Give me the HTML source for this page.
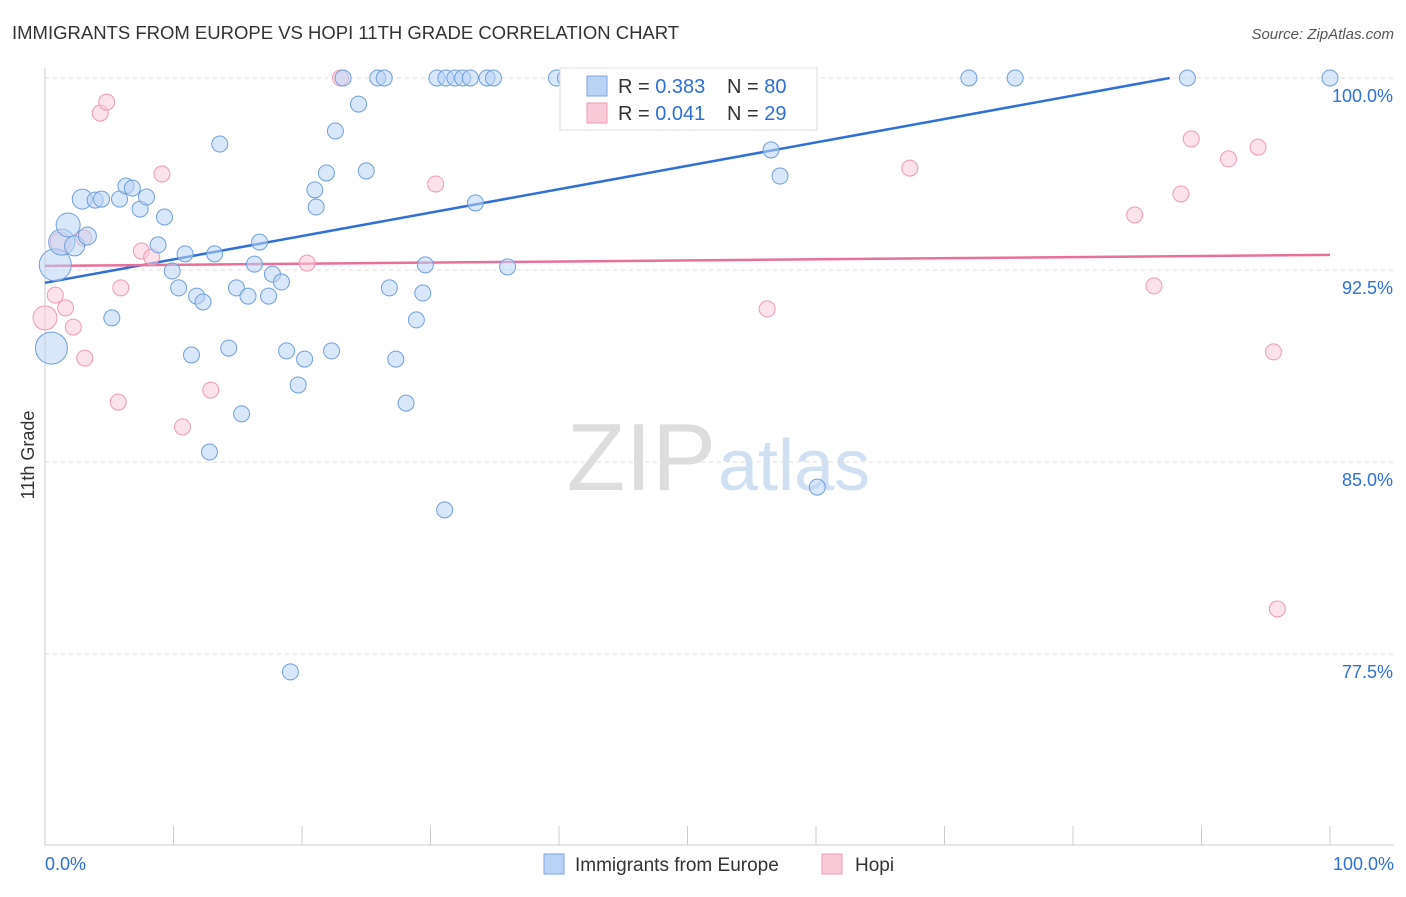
<!DOCTYPE html>
<html><head><meta charset="utf-8">
<style>
body{margin:0;background:#fff;font-family:"Liberation Sans",sans-serif;}
svg text{font-family:"Liberation Sans",sans-serif;}
</style></head>
<body>
<svg id="chart" width="1406" height="892">
<text x="12" y="39" font-size="18.5" fill="#333">IMMIGRANTS FROM EUROPE VS HOPI 11TH GRADE CORRELATION CHART</text>
<text x="1394" y="39" font-size="15" fill="#555" font-style="italic" text-anchor="end">Source: ZipAtlas.com</text>
<text x="34" y="455" font-size="18" fill="#333" transform="rotate(-90 34 455)" text-anchor="middle">11th Grade</text>
<text x="716" y="490" font-size="96" fill="#ddd" text-anchor="end" font-family="Liberation Serif">ZIP</text>
<text x="718" y="490" font-size="72" fill="#cfe0f3">atlas</text>
<g id="grid"></g>
<g id="axes"></g>
<g id="lines"></g>
<g id="pts"></g>
<g>
<rect x="560" y="68" width="257" height="62" fill="#fff" stroke="#ddd"/>
<rect x="587" y="76" width="20" height="20" fill="#b9d3f5" stroke="#7aa7e0"/>
<text x="618" y="93" font-size="20" fill="#333">R = <tspan fill="#2f6fd6">0.383</tspan></text>
<text x="727" y="93" font-size="20" fill="#333">N = <tspan fill="#2f6fd6">80</tspan></text>
<rect x="587" y="103" width="20" height="20" fill="#f9cbd8" stroke="#ee9ab3"/>
<text x="618" y="120" font-size="20" fill="#333">R = <tspan fill="#2f6fd6">0.041</tspan></text>
<text x="727" y="120" font-size="20" fill="#333">N = <tspan fill="#2f6fd6">29</tspan></text>
</g>
<g>
<rect x="544" y="854" width="20" height="20" fill="#b9d3f5" stroke="#7aa7e0"/>
<text x="575" y="871" font-size="19" fill="#333">Immigrants from Europe</text>
<rect x="822" y="854" width="20" height="20" fill="#f9cbd8" stroke="#ee9ab3"/>
<text x="855" y="871" font-size="19" fill="#333">Hopi</text>
</g>
</svg>
<script>
const yTicks=[100,92.5,85,77.5];
const yTickLabels=["100.0%","92.5%","85.0%","77.5%"];
const xTickLabels=["0.0%","100.0%"];
const blueX=[0.5,0.8,1.3,1.8,2.3,2.9,3.3,3.9,4.4,5.2,5.8,6.3,6.8,7.4,7.9,8.8,9.3,9.9,10.4,10.9,11.4,11.8,12.3,12.8,13.2,13.6,14.3,14.9,15.3,15.8,16.3,16.7,17.4,17.7,18.4,18.8,19.1,19.7,20.2,21.0,21.1,21.9,22.3,22.6,23.2,24.4,25.0,25.9,26.4,26.8,27.3,28.1,28.9,29.4,29.6,30.5,31.1,31.2,31.9,32.5,33.1,33.5,34.4,34.9,36.0,39.8,40.5,44.7,47.7,56.5,57.2,60.1,71.9,75.5,88.9,100];
const blueY=[89.45,92.7,93.59,94.26,93.44,95.27,93.83,95.23,95.27,90.63,95.27,95.78,95.7,94.88,95.35,93.48,94.57,92.46,91.8,93.13,89.18,91.48,91.25,85.39,93.13,97.42,89.45,91.8,86.88,91.48,92.73,93.59,91.48,92.34,92.03,89.34,76.8,88.01,89.02,95.63,94.96,96.29,89.34,97.93,100,98.98,96.37,100,100,91.8,89.02,87.3,90.55,91.6,92.7,100,83.13,100,100,100,100,95.12,100,100,92.62,100,100,100,100,97.19,96.17,84.02,100,100,100,100];
const blueR=[16,16,13,12,10,10,9,8,8,8,8,8,8,8,8,8,8,8,8,8,8,8,8,8,8,8,8,8,8,8,8,8,8,8,8,8,8,8,8,8,8,8,8,8,8,8,8,8,8,8,8,8,8,8,8,8,8,8,8,8,8,8,8,8,8,8,8,8,8,8,8,8,8,8,8,8];
const pinkX=[0,0.8,1.2,1.6,2.2,3.0,3.1,4.3,4.8,5.7,5.9,7.5,8.3,9.1,10.7,12.9,20.4,23.0,30.4,56.2,67.3,84.8,86.3,88.4,89.2,92.1,94.4,95.6,95.9];
const pinkY=[90.63,91.52,93.59,91.02,90.27,93.75,89.06,98.63,99.06,87.34,91.8,93.24,93.01,96.25,86.37,87.81,92.77,100,95.86,90.98,96.48,94.65,91.88,95.47,97.62,96.84,97.3,89.3,79.26];
const pinkR=[12,8,10,8,8,8,8,8,8,8,8,8,8,8,8,8,8,8,8,8,8,8,8,8,8,8,8,8,8];
const blueTrend=[92.0,0.0914];
const pinkTrend=[92.66,0.0043];
const NS="http://www.w3.org/2000/svg";
const X=v=>45+v*12.85, Y=v=>78+(100-v)*25.6;
function mk(p,t,a){const e=document.createElementNS(NS,t);for(const k in a)e.setAttribute(k,a[k]);document.getElementById(p).appendChild(e);return e;}
yTicks.forEach((v,i)=>{
 let l=mk('grid','line',{x1:45,x2:1394,y1:Y(v),y2:Y(v),stroke:'#ddd','stroke-dasharray':'4,4'});
 
 
 let t=mk('grid','text',{x:1393,y:Y(v)+24,'font-size':18,fill:'#2f6fd6','text-anchor':'end'});t.textContent=yTickLabels[i];
 
 
});
let ax=mk('axes','line',{x1:45,x2:1394,y1:845,y2:845,stroke:'#ccc'});


let ay=mk('axes','line',{x1:45,x2:45,y1:68,y2:845,stroke:'#ccc'});


for(let i=0;i<=10;i++){let t=mk('axes','line',{x1:X(i*10),x2:X(i*10),y1:826,y2:845,stroke:'#ccc'});
 
 }
[[0,'start',45],[1,'end',1394]].forEach(([i,a,x])=>{let t=mk('axes','text',{x:x,y:870,'font-size':18,fill:'#2f6fd6','text-anchor':a});t.textContent=xTickLabels[i];
 
 });
function pts(xs,ys,rs,fill,stroke,name){xs.forEach((x,i)=>{let c=mk('pts','circle',{cx:X(x),cy:Y(ys[i]),r:rs[i],fill:fill,stroke:stroke,'fill-opacity':0.55});
 
 });}
pts(pinkX,pinkY,pinkR,'#f9cbd8','#ee9ab3','point-hopi');
pts(blueX,blueY,blueR,'#b9d3f5','#6f9fdc','point-europe');
let bEnd=Math.min(100,(100-blueTrend[0])/blueTrend[1]);
let bl=mk('lines','line',{x1:X(0),y1:Y(blueTrend[0]),x2:X(bEnd),y2:Y(blueTrend[0]+blueTrend[1]*bEnd),stroke:'#2f6fd6','stroke-width':2.5});


let pl=mk('lines','line',{x1:X(0),y1:Y(pinkTrend[0]),x2:X(100),y2:Y(pinkTrend[0]+pinkTrend[1]*100),stroke:'#e8709a','stroke-width':2.5});


</script>
</body></html>
